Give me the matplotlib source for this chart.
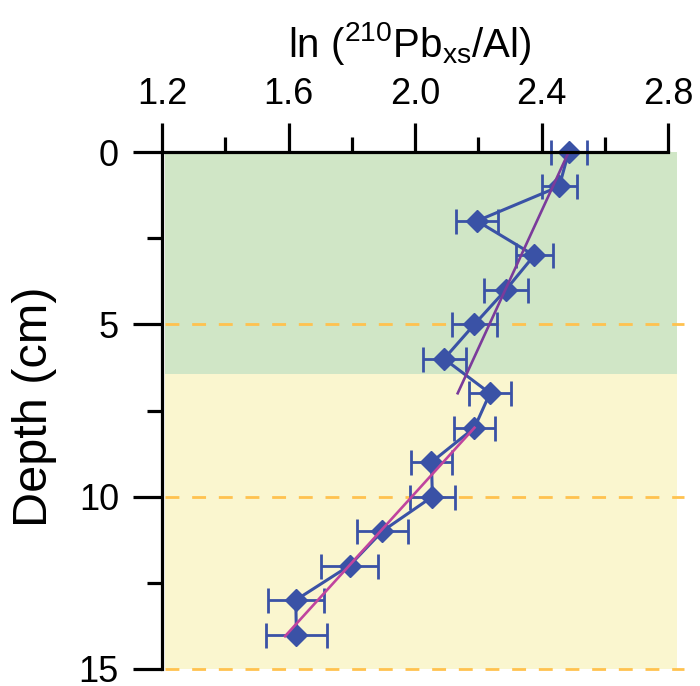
import matplotlib
matplotlib.use("Agg")
import matplotlib.pyplot as plt
from matplotlib.ticker import FixedLocator
from matplotlib.patches import Rectangle

plt.rcParams['font.family'] = ['Liberation Sans', 'DejaVu Sans']
plt.rcParams['mathtext.fontset'] = 'custom'
plt.rcParams['mathtext.rm'] = 'Liberation Sans'
plt.rcParams['mathtext.it'] = 'Liberation Sans'
plt.rcParams['mathtext.bf'] = 'Liberation Sans'

# ---- data ----
depth = [0, 1, 2, 3, 4, 5, 6, 7, 8, 9, 10, 11, 12, 13, 14]
ln_pb_al = [2.486, 2.456, 2.196, 2.377, 2.287, 2.188, 2.092, 2.237, 2.188,
            2.052, 2.055, 1.897, 1.793, 1.623, 1.625]
err = [0.057, 0.056, 0.066, 0.059, 0.069, 0.072, 0.068, 0.065, 0.066,
       0.066, 0.07, 0.08, 0.09, 0.088, 0.097]

fit_upper_x = [2.486, 2.135]
fit_upper_depth = [0.0, 7.0]
fit_lower_x = [2.188, 1.589]
fit_lower_depth = [8.0, 14.05]

zone_green = [0.0, 6.45]
zone_yellow = [6.45, 15.0]
dashed_depths = [5, 10, 15]

xticks_major = [1.2, 1.6, 2.0, 2.4, 2.8]
xticks_minor = [1.4, 1.8, 2.2, 2.6]
yticks_major = [0, 5, 10, 15]
yticks_minor = [2.5, 7.5, 12.5]

x_title = r'ln ($^{210}$Pb$_{\mathrm{xs}}$/Al)'
y_title = 'Depth (cm)'

# ---- figure ----
W, H = 700, 686
fig = plt.figure(figsize=(W / 100, H / 100), dpi=100)
ax = fig.add_axes([162 / W, 1 - 669 / H, (668 - 162) / W, (669 - 152) / H])
ax.set_xlim(1.2, 2.8)
ax.set_ylim(15, 0)

x_bg0, x_bg1 = 1.208, 2.83
ax.add_patch(Rectangle((x_bg0, zone_green[0]), x_bg1 - x_bg0, zone_green[1] - zone_green[0],
                       facecolor='#D0E6C6', edgecolor='none', clip_on=False, zorder=0))
ax.add_patch(Rectangle((x_bg0, zone_yellow[0]), x_bg1 - x_bg0, zone_yellow[1] - zone_yellow[0],
                       facecolor='#FAF6CF', edgecolor='none', clip_on=False, zorder=0))

for d in dashed_depths:
    ax.plot([1.208, 2.85], [d, d], color='#FFC24F', lw=2.0, dashes=(5, 4.6),
            clip_on=False, zorder=1)

ax.errorbar(ln_pb_al, depth, xerr=err, fmt='-', color='#3A52A6', lw=2.2,
            elinewidth=2.0, capsize=9, capthick=2.0, zorder=3, clip_on=False)
ax.plot(ln_pb_al, depth, linestyle='none', marker='D', markersize=11.5,
        color='#3A52A6', zorder=4, clip_on=False)

ax.plot(fit_upper_x, fit_upper_depth, color='#7B3B9B', lw=1.9, zorder=5, clip_on=False)
ax.plot(fit_lower_x, fit_lower_depth, color='#C0449E', lw=1.9, zorder=5, clip_on=False)

# spines / ticks
for s in ['right', 'bottom']:
    ax.spines[s].set_visible(False)
for s in ['top', 'left']:
    ax.spines[s].set_linewidth(2.3)
    ax.spines[s].set_zorder(6)

ax.xaxis.tick_top()
ax.xaxis.set_major_locator(FixedLocator(xticks_major))
ax.xaxis.set_minor_locator(FixedLocator(xticks_minor))
ax.set_xticklabels([f"{v:.1f}" for v in xticks_major])
ax.yaxis.set_major_locator(FixedLocator(yticks_major))
ax.yaxis.set_minor_locator(FixedLocator(yticks_minor))
ax.set_yticklabels([str(v) for v in yticks_major])

ax.tick_params(axis='both', which='major', direction='out', length=21, width=2.3,
               labelsize=26)
ax.tick_params(axis='both', which='minor', direction='out', length=10.5, width=2.3)
ax.tick_params(axis='x', which='major', pad=8)
ax.tick_params(axis='y', which='major', pad=10)

fig.text(410 / W, 1 - 57 / H, x_title, ha='center', va='baseline', fontsize=29)
fig.text(35 / W, 1 - 407 / H, y_title, ha='center', va='center', rotation=90,
         fontsize=35)

ax.set_facecolor('none')
fig.savefig('out.png', dpi=100)
